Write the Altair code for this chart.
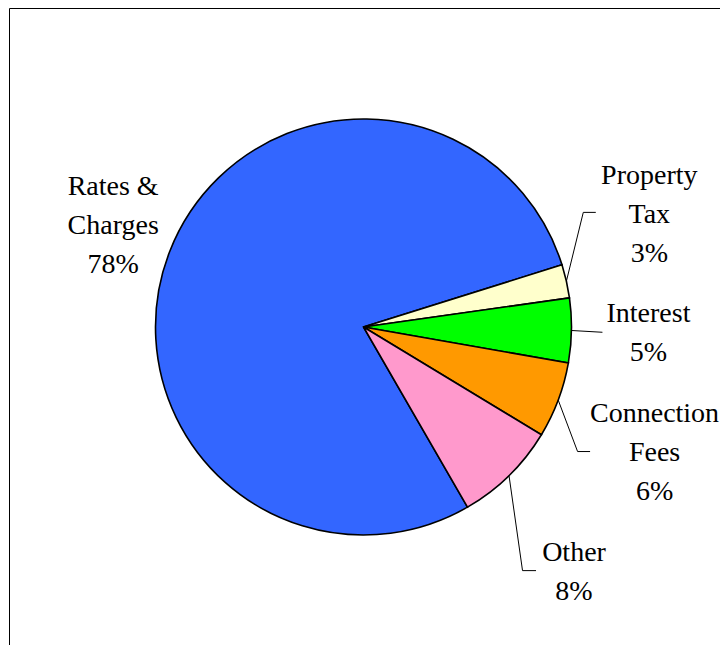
import math
import altair as alt
import pandas as pd

# ---------------- data ----------------
CATEGORIES = ["Rates & Charges", "Property Tax", "Interest", "Connection Fees", "Other"]
LABEL_LINES = ["Rates &\nCharges", "Property\nTax", "Interest", "Connection\nFees", "Other"]
VALUES = [78.5, 2.6, 5.0, 5.9, 8.0]
PCT_LABELS = ["78%", "3%", "5%", "6%", "8%"]

# ---------------- style / layout ----------------
COLORS = ["#3366FF", "#FFFFCC", "#00FF00", "#FF9900", "#FF99CC"]
W, H = 711, 640
CX, CY, R = 354.5, 319.0, 208.0
START_DEG = 150.0
LABEL_R = [270.0, 307.0, 285.0, 317.0, 323.5]
LABEL_SHIFT_DEG = [0.7, -8.7, 0.3, 2.75, 3.8]
LINE_H = 39.0
# leader (elbow dx, elbow dy, end dx, end dy) relative to label anchor
LEADER = [None, (-66.0, -2.5, -53.5, -2.5), (-46.0, -1.0, -46.0, -1.0),
          (-77.0, -1.0, -64.5, -1.0), (-51.5, -2.0, -38.0, -2.0)]
FONT = "Liberation Serif, DejaVu Serif, serif"

# ---------------- tables ----------------
total = sum(VALUES)
slices = pd.DataFrame({
    "cat": CATEGORIES,
    "value": VALUES,
    "idx": list(range(len(CATEGORIES))),
})

label_rows, leader_rows = [], []
cum = 0.0
for i, (cat, v) in enumerate(zip(CATEGORIES, VALUES)):
    mid = START_DEG + 360.0 * (cum + v / 2.0) / total
    cum += v
    la = math.radians(mid + LABEL_SHIFT_DEG[i])
    ax = CX + LABEL_R[i] * math.sin(la)
    ay = CY - LABEL_R[i] * math.cos(la)
    text_value = LABEL_LINES[i] + "\n" + PCT_LABELS[i]
    n_lines = text_value.count("\n") + 1
    label_rows.append({"cat": cat, "label": text_value, "ax": ax,
                       "ay": ay - (n_lines - 1) * LINE_H / 2.0})
    if LEADER[i] is not None:
        m = math.radians(mid)
        ex, ey, fx, fy = LEADER[i]
        pts = [(CX + R * math.sin(m), CY - R * math.cos(m)), (ax + ex, ay + ey), (ax + fx, ay + fy)]
        for k, (px, py) in enumerate(pts):
            leader_rows.append({"cat": cat, "pt": k, "x": px, "y": py})

labels = pd.DataFrame(label_rows)
leaders = pd.DataFrame(leader_rows)

start_rad = math.radians(START_DEG)

pie = alt.Chart(slices).mark_arc(radius=R, stroke="black", strokeWidth=1.6).encode(
    theta=alt.Theta("value:Q", stack=True,
                    scale=alt.Scale(domain=[0, total], range=[start_rad, start_rad + 2 * math.pi])),
    color=alt.Color("cat:N", scale=alt.Scale(domain=CATEGORIES, range=COLORS), legend=None),
    order=alt.Order("idx:Q"),
    x=alt.value(CX),
    y=alt.value(CY),
)

lines = alt.Chart(leaders).mark_line(color="black", strokeWidth=1).encode(
    x=alt.X("x:Q", scale=None, axis=None),
    y=alt.Y("y:Q", scale=None, axis=None),
    detail="cat:N",
    order="pt:Q",
)

text = alt.Chart(labels).mark_text(
    font=FONT, fontSize=28, lineHeight=LINE_H, lineBreak="\n",
    align="center", baseline="middle", color="black",
).encode(
    x=alt.X("ax:Q", scale=None, axis=None),
    y=alt.Y("ay:Q", scale=None, axis=None),
    text="label:N",
)

chart = alt.layer(pie, lines, text).properties(
    width=W, height=H,
    autosize=alt.AutoSizeParams(type="none"),
    padding={"left": 1, "top": 0, "right": 0, "bottom": 0},
    background="white",
).configure_view(stroke="black", strokeWidth=1)

chart.save("out.html", embed_options={"renderer": "svg", "actions": False})
